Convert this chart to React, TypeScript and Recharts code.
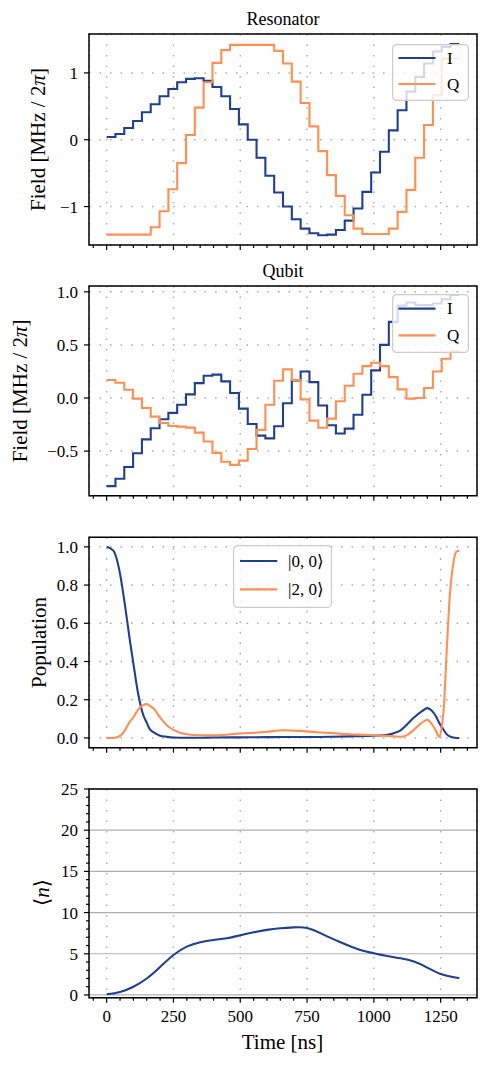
import React from 'react';
import { LineChart, Line, XAxis, YAxis, CartesianGrid, ReferenceArea, Legend, Label } from 'recharts';

const FONT = '"Liberation Serif", "DejaVu Serif", serif';
const BLUE = '#1f3f8f';
const ORANGE = '#ff8f52';
const GRID = '#b0b0b0';

// ---------- data ----------
const stepTimes = [0, 33, 66, 99, 132, 165, 198, 231, 264, 297, 330, 363, 396, 429, 462, 495, 528, 561, 594, 627,
  660, 693, 726, 759, 792, 825, 858, 891, 924, 957, 990, 1023, 1056, 1089, 1122, 1155, 1188, 1221, 1254, 1287, 1320];

const resI = [0.04, 0.085, 0.175, 0.28, 0.41, 0.53, 0.65, 0.76, 0.86, 0.91, 0.92, 0.88, 0.79, 0.65, 0.46, 0.23, 0.0,
  -0.27, -0.54, -0.79, -1.0, -1.19, -1.33, -1.4, -1.43, -1.42, -1.35, -1.21, -1.03, -0.78, -0.49, -0.18, 0.14, 0.44,
  0.72, 0.94, 1.14, 1.32, 1.39, 1.43];
const resQ = [-1.42, -1.42, -1.42, -1.42, -1.42, -1.31, -1.07, -0.74, -0.35, 0.07, 0.48, 0.86, 1.15, 1.34, 1.42, 1.42,
  1.42, 1.42, 1.42, 1.33, 1.14, 0.87, 0.55, 0.2, -0.17, -0.53, -0.84, -1.13, -1.33, -1.41, -1.41, -1.41, -1.33, -1.08,
  -0.75, -0.27, 0.22, 0.67, 1.21, 1.22];

const qubI = [-0.83, -0.76, -0.65, -0.52, -0.39, -0.285, -0.2, -0.14, -0.063, 0.034, 0.14, 0.21, 0.22, 0.157, 0.047,
  -0.1, -0.245, -0.354, -0.38, -0.266, -0.05, 0.166, 0.25, 0.15, -0.07, -0.257, -0.335, -0.288, -0.157, 0.03, 0.26,
  0.5, 0.717, 0.87, 0.9, 0.875, 0.875, 0.89, 0.93, 0.97];
const qubQ = [0.17, 0.144, 0.078, -0.006, -0.094, -0.175, -0.235, -0.263, -0.27, -0.279, -0.326, -0.41, -0.517, -0.6,
  -0.63, -0.59, -0.48, -0.3, -0.063, 0.163, 0.27, 0.17, -0.013, -0.213, -0.28, -0.194, -0.03, 0.116, 0.229, 0.3,
  0.332, 0.3, 0.197, 0.081, -0.006, 0.0, 0.094, 0.25, 0.37, 0.44];

const popTimes = [0, 25, 50, 68, 87, 100, 118, 137, 150, 162, 175, 200, 224, 250, 300, 350, 400, 500, 600, 660, 720,
  785, 845, 910, 970, 1030, 1075, 1100, 1120, 1145, 1180, 1200, 1217, 1231, 1246, 1256, 1262, 1272, 1284, 1297, 1309, 1320];
const pop00 = [1.0, 0.98, 0.86, 0.7, 0.51, 0.39, 0.23, 0.12, 0.08, 0.045, 0.03, 0.012, 0.006, 0.002, 0.001, 0.001,
  0.002, 0.003, 0.004, 0.005, 0.005, 0.005, 0.006, 0.008, 0.01, 0.014, 0.025, 0.04, 0.065, 0.1, 0.14, 0.156, 0.142,
  0.116, 0.075, 0.054, 0.04, 0.02, 0.008, 0.002, 0.0, 0.0];
const pop20 = [0.0, 0.0, 0.01, 0.04, 0.085, 0.107, 0.15, 0.172, 0.177, 0.168, 0.155, 0.107, 0.068, 0.042, 0.019,
  0.014, 0.014, 0.023, 0.032, 0.04, 0.037, 0.03, 0.025, 0.019, 0.016, 0.012, 0.008, 0.006, 0.012, 0.037, 0.08, 0.095,
  0.072, 0.04, 0.005, 0.08, 0.16, 0.44, 0.74, 0.91, 0.975, 0.98];

const nTimes = [0, 50, 100, 150, 200, 250, 300, 350, 400, 450, 500, 550, 600, 650, 700, 750, 800, 850, 900, 950,
  1000, 1050, 1100, 1150, 1200, 1250, 1300, 1320];
const nMean = [0.08, 0.36, 1.0, 2.0, 3.4, 4.85, 5.87, 6.4, 6.67, 6.88, 7.24, 7.6, 7.9, 8.09, 8.2, 8.13, 7.5,
  6.75, 6.07, 5.46, 5.06, 4.73, 4.45, 4.05, 3.32, 2.55, 2.14, 2.06];

const xTicks = [0, 250, 500, 750, 1000, 1250];
const xMinorTicks = [-50, 50, 100, 150, 200, 300, 350, 400, 450, 550, 600, 650, 700, 800, 850, 900, 950, 1050, 1100,
  1150, 1200, 1300, 1350];
const resTicks = [-1, 0, 1];
const qubTicks = [-0.5, 0, 0.5, 1.0];
const popTicks = [0, 0.2, 0.4, 0.6, 0.8, 1.0];
const nTicks = [0, 5, 10, 15, 20, 25];
const nMinorTicks = [1, 2, 3, 4, 6, 7, 8, 9, 11, 12, 13, 14, 16, 17, 18, 19, 21, 22, 23, 24];

const xDomain: [number, number] = [-66, 1386];

const resData = stepTimes.map((t, i) => ({ t, I: resI[Math.min(i, resI.length - 1)], Q: resQ[Math.min(i, resQ.length - 1)] }));
const qubData = stepTimes.map((t, i) => ({ t, I: qubI[Math.min(i, qubI.length - 1)], Q: qubQ[Math.min(i, qubQ.length - 1)] }));
const popData = popTimes.map((t, i) => ({ t, p00: pop00[i], p20: pop20[i] }));
const nData = nTimes.map((t, i) => ({ t, n: nMean[i] }));

// ---------- helpers ----------
const minus = (s: string) => s.replace('-', '\u2212');
const fmtInt = (v: number) => minus(String(v));
const fmt1 = (v: number) => minus(v.toFixed(1));

const NoTick = () => <g />;
const tickStyle = { fontSize: 17, fill: '#000', fontFamily: FONT };
const tickLine = { stroke: '#000', strokeWidth: 1.2 };
const THIN = 0.01;

const yLabel = (x: number, y: number, content: React.ReactNode) => (
  <Label
    content={() => (
      <text x={x} y={y} transform={`rotate(-90 ${x} ${y})`} textAnchor="middle" dominantBaseline="central"
        fontSize={21} fontFamily={FONT} fill="#000">{content}</text>
    )}
  />
);

type LegItem = { label: React.ReactNode; color: string };
function LegendBox({ items, w, h, rows, x1, x2, tx }: { items: LegItem[]; w: number; h: number; rows: number[]; x1: number; x2: number; tx: number }) {
  return (
    <svg width={w} height={h} style={{ display: 'block', overflow: 'visible' }}>
      <rect x={0.6} y={0.6} width={w - 1.2} height={h - 1.2} rx={4} ry={4} fill="#fff" fillOpacity={0.8} stroke="#cccccc" strokeWidth={1.2} />
      {items.map((it, i) => (
        <g key={i}>
          <line x1={x1} x2={x2} y1={rows[i]} y2={rows[i]} stroke={it.color} strokeWidth={2.2} />
          <text x={tx} y={rows[i]} dominantBaseline="central" fontSize={17} fontFamily={FONT} fill="#000">{it.label}</text>
        </g>
      ))}
    </svg>
  );
}

function Title({ y, text }: { y: number; text: string }) {
  return (
    <div style={{ position: 'absolute', left: 89, width: 388, top: y - 11, height: 22, lineHeight: '22px', textAlign: 'center', fontFamily: FONT, fontSize: 18, color: '#000' }}>{text}</div>
  );
}

const frame = (y1: number, y2: number) => (
  <ReferenceArea x1={xDomain[0]} x2={xDomain[1]} y1={y1} y2={y2} fill="none" fillOpacity={0} stroke="#000" strokeWidth={1.5} ifOverflow="visible" />
);

const xAxes = (labels: boolean) => [
  <XAxis key="maj" type="number" dataKey="t" domain={xDomain} ticks={xTicks} allowDataOverflow interval={0}
    height={THIN} axisLine={false} tickSize={5} tickMargin={7} tickLine={tickLine}
    tick={labels ? tickStyle : NoTick} />,
  <XAxis key="min" xAxisId="minor" type="number" dataKey="t" domain={xDomain} ticks={xMinorTicks} allowDataOverflow interval={0}
    height={THIN} axisLine={false} tickSize={3} tickLine={tickLine} tick={NoTick} />,
];

const legIQ: LegItem[] = [{ label: 'I', color: BLUE }, { label: 'Q', color: ORANGE }];
const legPop: LegItem[] = [
  { label: '|0, 0\u27E9', color: BLUE },
  { label: '|2, 0\u27E9', color: ORANGE },
];

const fieldLabel = (<>Field [MHz / 2<tspan fontStyle="italic">π</tspan>]</>);

export default function App() {
  const resDom: [number, number] = [-1.575, 1.582];
  const qubDom: [number, number] = [-0.92, 1.055];
  const popDom: [number, number] = [-0.051, 1.05];
  const nDom: [number, number] = [-0.33, 25];
  return (
    <div style={{ position: 'absolute', left: 0, top: 0, width: 489, height: 1065, background: '#fff', fontFamily: FONT }}>
      {/* Panel 1: Resonator */}
      <div style={{ position: 'absolute', left: 0, top: 0 }}>
        <LineChart width={489} height={260} data={resData} margin={{ top: 34, right: 12, bottom: 15, left: 89 }}>
          <CartesianGrid stroke={GRID} strokeDasharray="1.6 8.9" strokeWidth={1.5} />
          {xAxes(false)}
          <YAxis type="number" domain={resDom} ticks={resTicks} allowDataOverflow interval={0} width={THIN}
            axisLine={false} tickSize={5} tickMargin={6} tickLine={tickLine} tick={tickStyle} tickFormatter={fmtInt}>
            {yLabel(37.5, 139.5, fieldLabel)}
          </YAxis>
          <Line type="stepAfter" dataKey="I" stroke={BLUE} strokeWidth={2.1} dot={false} isAnimationActive={false} />
          <Line type="stepAfter" dataKey="Q" stroke={ORANGE} strokeWidth={2.1} dot={false} isAnimationActive={false} />
          {frame(resDom[0], resDom[1])}
          <Legend layout="horizontal" align="center" verticalAlign="middle"
            wrapperStyle={{ left: 391.5, top: 44.3, width: 77, height: 57 }}
            content={() => <LegendBox items={legIQ} w={77} h={57} rows={[14, 40]} x1={6.5} x2={43.5} tx={55} />} />
        </LineChart>
      </div>
      <Title y={19} text="Resonator" />

      {/* Panel 2: Qubit */}
      <div style={{ position: 'absolute', left: 0, top: 260 }}>
        <LineChart width={489} height={260} data={qubData} margin={{ top: 26, right: 12, bottom: 24.3, left: 89 }}>
          <CartesianGrid stroke={GRID} strokeDasharray="1.6 8.9" strokeWidth={1.5} />
          {xAxes(false)}
          <YAxis type="number" domain={qubDom} ticks={qubTicks} allowDataOverflow interval={0} width={THIN}
            axisLine={false} tickSize={5} tickMargin={6} tickLine={tickLine} tick={tickStyle} tickFormatter={fmt1}>
            {yLabel(20.5, 130.9, fieldLabel)}
          </YAxis>
          <Line type="stepAfter" dataKey="I" stroke={BLUE} strokeWidth={2.1} dot={false} isAnimationActive={false} />
          <Line type="stepAfter" dataKey="Q" stroke={ORANGE} strokeWidth={2.1} dot={false} isAnimationActive={false} />
          {frame(qubDom[0], qubDom[1])}
          <Legend layout="horizontal" align="center" verticalAlign="middle"
            wrapperStyle={{ left: 392, top: 34.3, width: 77, height: 59 }}
            content={() => <LegendBox items={legIQ} w={77} h={59} rows={[14.7, 41.4]} x1={6.5} x2={43.5} tx={55} />} />
        </LineChart>
      </div>
      <Title y={271} text="Qubit" />

      {/* Panel 3: Population */}
      <div style={{ position: 'absolute', left: 0, top: 520 }}>
        <LineChart width={489} height={260} data={popData} margin={{ top: 17.3, right: 12, bottom: 32.3, left: 89 }}>
          <CartesianGrid stroke={GRID} strokeDasharray="1.6 8.9" strokeWidth={1.5} />
          {xAxes(false)}
          <YAxis type="number" domain={popDom} ticks={popTicks} allowDataOverflow interval={0} width={THIN}
            axisLine={false} tickSize={5} tickMargin={6} tickLine={tickLine} tick={tickStyle} tickFormatter={fmt1}>
            {yLabel(38.5, 122.5, 'Population')}
          </YAxis>
          <Line type="monotone" dataKey="p00" stroke={BLUE} strokeWidth={2.1} dot={false} isAnimationActive={false} />
          <Line type="monotone" dataKey="p20" stroke={ORANGE} strokeWidth={2.1} dot={false} isAnimationActive={false} />
          {frame(popDom[0], popDom[1])}
          <Legend layout="horizontal" align="center" verticalAlign="middle"
            wrapperStyle={{ left: 233, top: 25, width: 99, height: 63 }}
            content={() => <LegendBox items={legPop} w={99} h={63} rows={[16, 44.3]} x1={7} x2={44.3} tx={55} />} />
        </LineChart>
      </div>

      {/* Panel 4: <n> */}
      <div style={{ position: 'absolute', left: 0, top: 780 }}>
        <LineChart width={489} height={285} data={nData} margin={{ top: 9, right: 12, bottom: 67.3, left: 89 }}>
          <CartesianGrid horizontal={false} stroke={GRID} strokeDasharray="1.6 8.9" strokeWidth={1.5} />
          <CartesianGrid vertical={false} stroke={GRID} strokeWidth={1.2} />
          {xAxes(true)}
          <XAxis xAxisId="lab" type="number" dataKey="t" domain={xDomain} ticks={[0]} height={THIN} axisLine={false} tick={NoTick} tickLine={false}>
            <Label content={() => (
              <text x={282.5} y={261.7} textAnchor="middle" dominantBaseline="central" fontSize={21} fontFamily={FONT} fill="#000">Time [ns]</text>
            )} />
          </XAxis>
          <YAxis type="number" domain={nDom} ticks={nTicks} allowDataOverflow interval={0} width={THIN}
            axisLine={false} tickSize={5} tickMargin={6} tickLine={tickLine} tick={tickStyle} tickFormatter={fmtInt}>
            {yLabel(42, 112.5, (<>{'\u27E8'}<tspan fontStyle="italic">n</tspan>{'\u27E9'}</>))}
          </YAxis>
          <YAxis yAxisId="minor" type="number" domain={nDom} ticks={nMinorTicks} allowDataOverflow interval={0} width={THIN}
            axisLine={false} tickSize={3} tickLine={tickLine} tick={NoTick} />
          <Line type="natural" dataKey="n" stroke={BLUE} strokeWidth={2.1} dot={false} isAnimationActive={false} />
          {frame(nDom[0], nDom[1])}
        </LineChart>
      </div>
    </div>
  );
}
